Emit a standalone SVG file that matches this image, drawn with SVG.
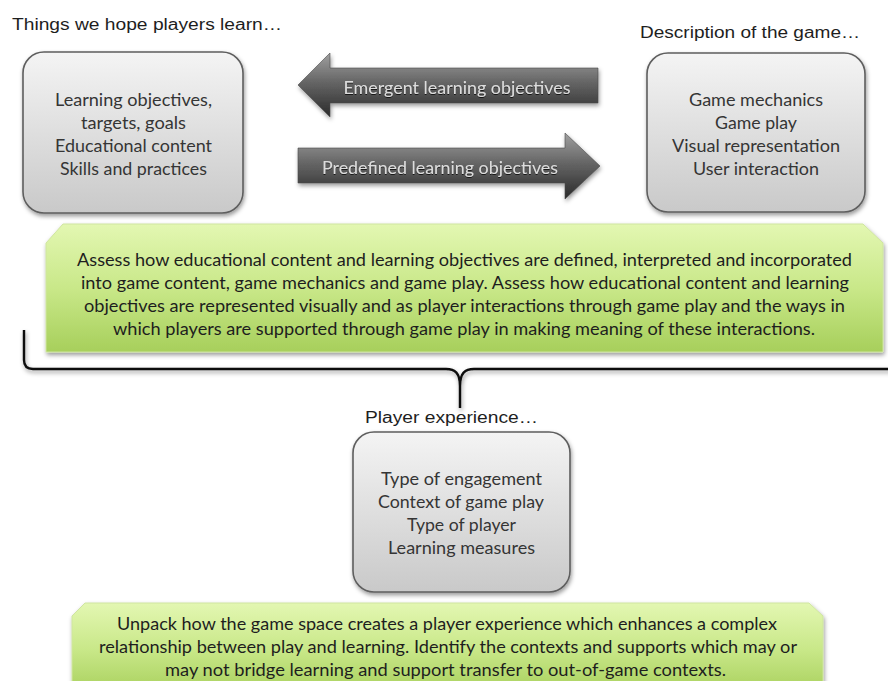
<svg xmlns="http://www.w3.org/2000/svg" width="888" height="681" viewBox="0 0 888 681">
<defs>
<linearGradient id="gGray" x1="0" y1="0" x2="0" y2="1">
<stop offset="0" stop-color="#f4f4f4"/>
<stop offset="1" stop-color="#c9c9c9"/>
</linearGradient>
<linearGradient id="gGreen" x1="0" y1="0" x2="0" y2="1">
<stop offset="0" stop-color="#e3f7b2"/>
<stop offset="0.5" stop-color="#c9e889"/>
<stop offset="1" stop-color="#a7cf5b"/>
</linearGradient>
<linearGradient id="gArrow" x1="0" y1="0" x2="0" y2="1">
<stop offset="0" stop-color="#a0a0a0"/>
<stop offset="0.45" stop-color="#666666"/>
<stop offset="1" stop-color="#2a2a2a"/>
</linearGradient>
<filter id="sh" x="-10%" y="-10%" width="120%" height="130%">
<feDropShadow dx="1" dy="2.5" stdDeviation="2" flood-color="#000" flood-opacity="0.4"/>
</filter>
<filter id="tsh" x="-5%" y="-20%" width="110%" height="150%">
<feDropShadow dx="0" dy="1" stdDeviation="0.6" flood-color="#000" flood-opacity="0.7"/>
</filter>
</defs>
<style>
.title{font-family:"Liberation Sans",Arial,sans-serif;font-size:16px;fill:#1e1e1e}
.box{fill:url(#gGray);stroke:#5e5e5e;stroke-width:1.6;filter:url(#sh)}
.green{fill:url(#gGreen);stroke:#cfe5a0;stroke-width:1;filter:url(#sh)}
.arrow{fill:url(#gArrow);stroke:#4a4a4a;stroke-width:0.6;filter:url(#sh)}
.bt{font-family:Lato,"Open Sans",sans-serif;font-size:17.5px;fill:#353535;text-anchor:middle}
.gt{font-family:Lato,"Open Sans",sans-serif;font-size:17px;fill:#1e1e1e;text-anchor:middle}
.at{font-family:Lato,"Open Sans",sans-serif;font-size:17px;fill:#dcdcdc;text-anchor:middle;filter:url(#tsh)}
.brace{fill:none;stroke:#111;stroke-width:2.4;filter:url(#sh)}
</style>
<rect width="888" height="681" fill="#ffffff"/>

<g id="connectors">
<path class="brace" d="M24,330 V360 Q24,369 33,369 H446 C455,369 460,373 460,386 V408 M460,386 C460,373 465,369 474,369 H892"/>
<g id="arrow-emergent">
<polygon class="arrow" points="298,85 330,53 330,68 598,68 598,103 330,103 330,117"/>
<text class="at" x="457" y="94" textLength="227" lengthAdjust="spacingAndGlyphs">Emergent learning objectives</text>
</g>
<g id="arrow-predefined">
<polygon class="arrow" points="298,148 565,148 565,133 600,166 565,199 565,183 298,183"/>
<text class="at" x="440" y="174" textLength="236" lengthAdjust="spacingAndGlyphs">Predefined learning objectives</text>
</g>
</g>

<g id="learn">
<text class="title" x="12" y="30" textLength="270" lengthAdjust="spacingAndGlyphs">Things we hope players learn…</text>
<rect class="box" x="23" y="52" width="220" height="161" rx="21"/>
<text class="bt" x="133.5" y="106" textLength="157" lengthAdjust="spacingAndGlyphs">Learning objectives,</text>
<text class="bt" x="133.5" y="129" textLength="105" lengthAdjust="spacingAndGlyphs">targets, goals</text>
<text class="bt" x="133.5" y="152" textLength="157" lengthAdjust="spacingAndGlyphs">Educational content</text>
<text class="bt" x="133.5" y="175" textLength="147" lengthAdjust="spacingAndGlyphs">Skills and practices</text>
</g>

<g id="game">
<text class="title" x="640" y="38" textLength="220" lengthAdjust="spacingAndGlyphs">Description of the game…</text>
<rect class="box" x="647" y="53" width="218" height="159" rx="21"/>
<text class="bt" x="756" y="106" textLength="134" lengthAdjust="spacingAndGlyphs">Game mechanics</text>
<text class="bt" x="756" y="129" textLength="82" lengthAdjust="spacingAndGlyphs">Game play</text>
<text class="bt" x="756" y="152" textLength="168" lengthAdjust="spacingAndGlyphs">Visual representation</text>
<text class="bt" x="756" y="175" textLength="126" lengthAdjust="spacingAndGlyphs">User interaction</text>
</g>

<g id="assess">
<path class="green" d="M46,243 L63,224 L863,224 L883,243 L883,352 L46,352 Z"/>
<text class="gt" x="464.5" y="266" textLength="775" lengthAdjust="spacingAndGlyphs">Assess how educational content and learning objectives are defined, interpreted and incorporated</text>
<text class="gt" x="465" y="289" textLength="768" lengthAdjust="spacingAndGlyphs">into game content, game mechanics and game play. Assess how educational content and learning</text>
<text class="gt" x="464.5" y="312" textLength="761" lengthAdjust="spacingAndGlyphs">objectives are represented visually and as player interactions through game play and the ways in</text>
<text class="gt" x="464" y="335" textLength="702" lengthAdjust="spacingAndGlyphs">which players are supported through game play in making meaning of these interactions.</text>
</g>

<g id="player">
<text class="title" x="365" y="423" textLength="173" lengthAdjust="spacingAndGlyphs">Player experience…</text>
<rect class="box" x="353" y="432" width="217" height="160" rx="21"/>
<text class="bt" x="461.5" y="485" textLength="161" lengthAdjust="spacingAndGlyphs">Type of engagement</text>
<text class="bt" x="461" y="508" textLength="166" lengthAdjust="spacingAndGlyphs">Context of game play</text>
<text class="bt" x="461.5" y="531" textLength="109" lengthAdjust="spacingAndGlyphs">Type of player</text>
<text class="bt" x="461.5" y="554" textLength="147" lengthAdjust="spacingAndGlyphs">Learning measures</text>
</g>

<g id="unpack">
<path class="green" d="M72,616 L85,603 L809,603 L823,616 L823,695 L72,695 Z"/>
<text class="gt" x="447" y="630" textLength="660" lengthAdjust="spacingAndGlyphs">Unpack how the game space creates a player experience which enhances a complex</text>
<text class="gt" x="448" y="653" textLength="698" lengthAdjust="spacingAndGlyphs">relationship between play and learning. Identify the contexts and supports which may or</text>
<text class="gt" x="445.5" y="676" textLength="561" lengthAdjust="spacingAndGlyphs">may not bridge learning and support transfer to out-of-game contexts.</text>
</g>
</svg>
